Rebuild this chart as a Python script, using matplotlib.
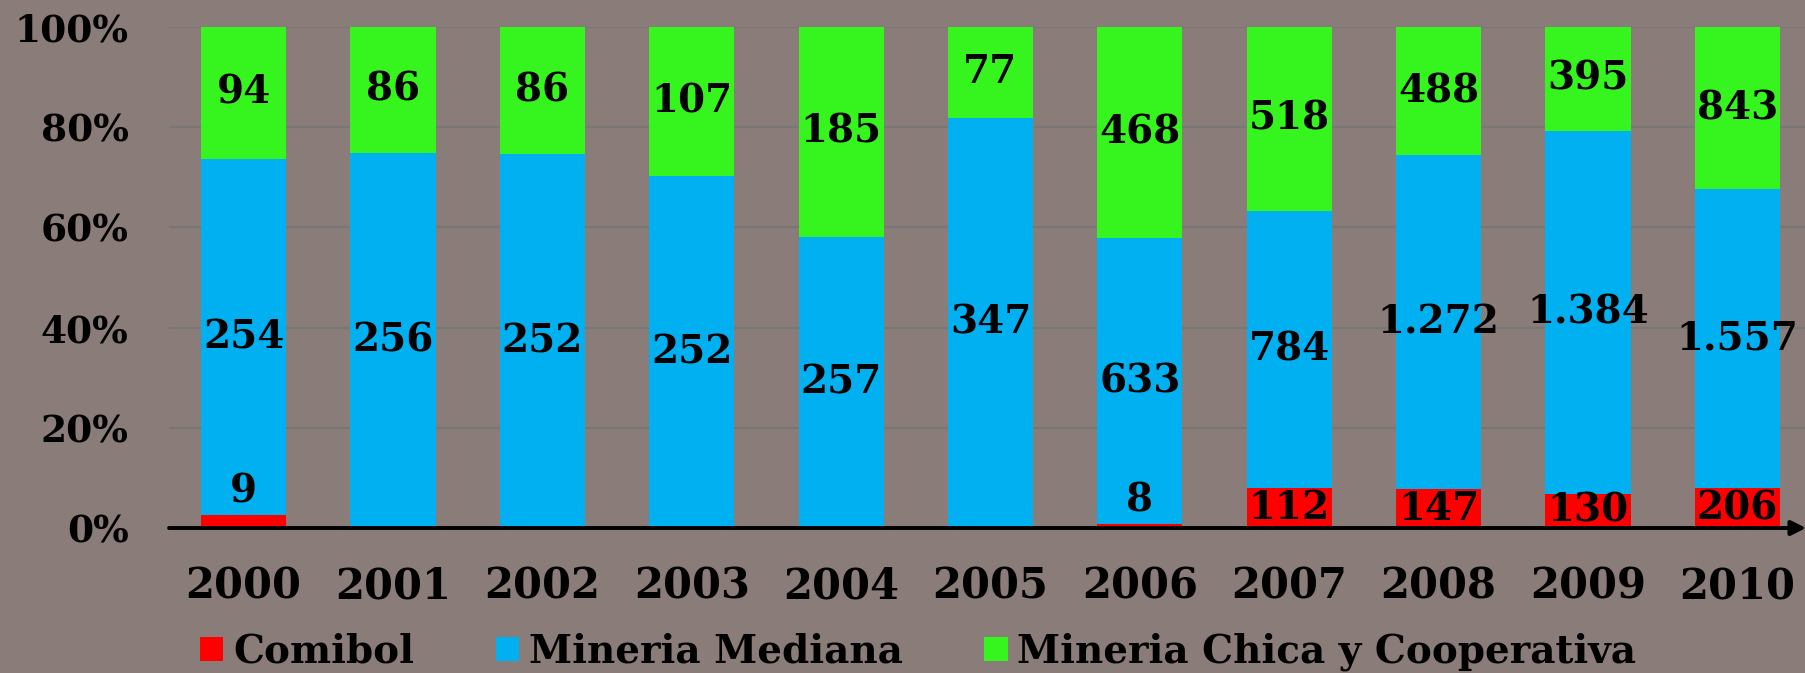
import numpy as np
import matplotlib
matplotlib.use("Agg")
import matplotlib.pyplot as plt
from matplotlib.patches import Patch

# data
years = ["2000", "2001", "2002", "2003", "2004", "2005",
         "2006", "2007", "2008", "2009", "2010"]
comibol = [9, 0, 0, 0, 0, 0, 8, 112, 147, 130, 206]
mediana = [254, 256, 252, 252, 257, 347, 633, 784, 1272, 1384, 1557]
chica = [94, 86, 86, 107, 185, 77, 468, 518, 488, 395, 843]
series_names = ["Comibol", "Mineria Mediana", "Mineria Chica y Cooperativa"]
colors = ["#FF0000", "#00B0F0", "#36F51F"]
ytick_vals = [0, 0.2, 0.4, 0.6, 0.8, 1.0]

bg = "#8A7C78"
plt.rcParams['font.family'] = ['DejaVu Serif']
plt.rcParams['font.weight'] = 'bold'

fig = plt.figure(figsize=(18.06, 6.73), dpi=100, facecolor=bg)
ax = fig.add_axes([169 / 1806, 1 - 528 / 673, 1 - 169 / 1806, (528 - 27) / 673])
ax.set_facecolor(bg)

data = np.array([comibol, mediana, chica], dtype=float)
totals = data.sum(axis=0)
shares = data / totals
x = np.arange(len(years))
width = 0.57

bottom = np.zeros(len(years))
for k in range(3):
    ax.bar(x, shares[k], width, bottom=bottom, color=colors[k], zorder=2)
    for i in range(len(years)):
        v = data[k, i]
        if v <= 0:
            continue
        label = f"{int(v):,}".replace(",", ".")
        h = shares[k, i]
        if h < 0.03:
            # tiny segment: label sits just above it
            ax.text(x[i], bottom[i] + h + 0.01, label, ha='center', va='bottom',
                    fontsize=28, fontweight='bold', color='black', zorder=4)
        else:
            ax.text(x[i], bottom[i] + h / 2, label, ha='center', va='center',
                    fontsize=28, fontweight='bold', color='black', zorder=4)
    bottom += shares[k]

ax.set_xlim(-0.5, 10.46)
ax.set_ylim(0, 1)
ax.set_yticks(ytick_vals)
ax.set_yticklabels([f"{int(round(v * 100))}%" for v in ytick_vals])
ax.set_xticks(x)
ax.set_xticklabels(years)
ax.tick_params(axis='y', length=0, pad=29, labelsize=27)
ax.tick_params(axis='x', length=0, pad=27, labelsize=30)
for t in ax.get_xticklabels() + ax.get_yticklabels():
    t.set_fontweight('bold')

ax.grid(axis='y', color='#777777', lw=1.5, zorder=1)
ax.set_axisbelow(True)
for s in ax.spines.values():
    s.set_visible(False)

# x axis with arrow head
ax.annotate("", xy=(1.0, 0), xytext=(0, 0), xycoords='axes fraction',
            arrowprops=dict(arrowstyle='-|>', color='black', lw=2.8,
                            mutation_scale=22, shrinkA=0, shrinkB=0),
            zorder=5, annotation_clip=False)

handles = [Patch(facecolor=c, edgecolor='none') for c in colors]
fig.legend(handles, series_names, loc='center left',
           bbox_to_anchor=(200 / 1806, 1 - 652 / 673), ncol=3, frameon=False,
           prop={'size': 28, 'weight': 'bold'}, handlelength=0.6,
           handleheight=0.6, handletextpad=0.25, columnspacing=2.1,
           borderpad=0, borderaxespad=0)

fig.savefig("out.png", dpi=100, facecolor=bg)
